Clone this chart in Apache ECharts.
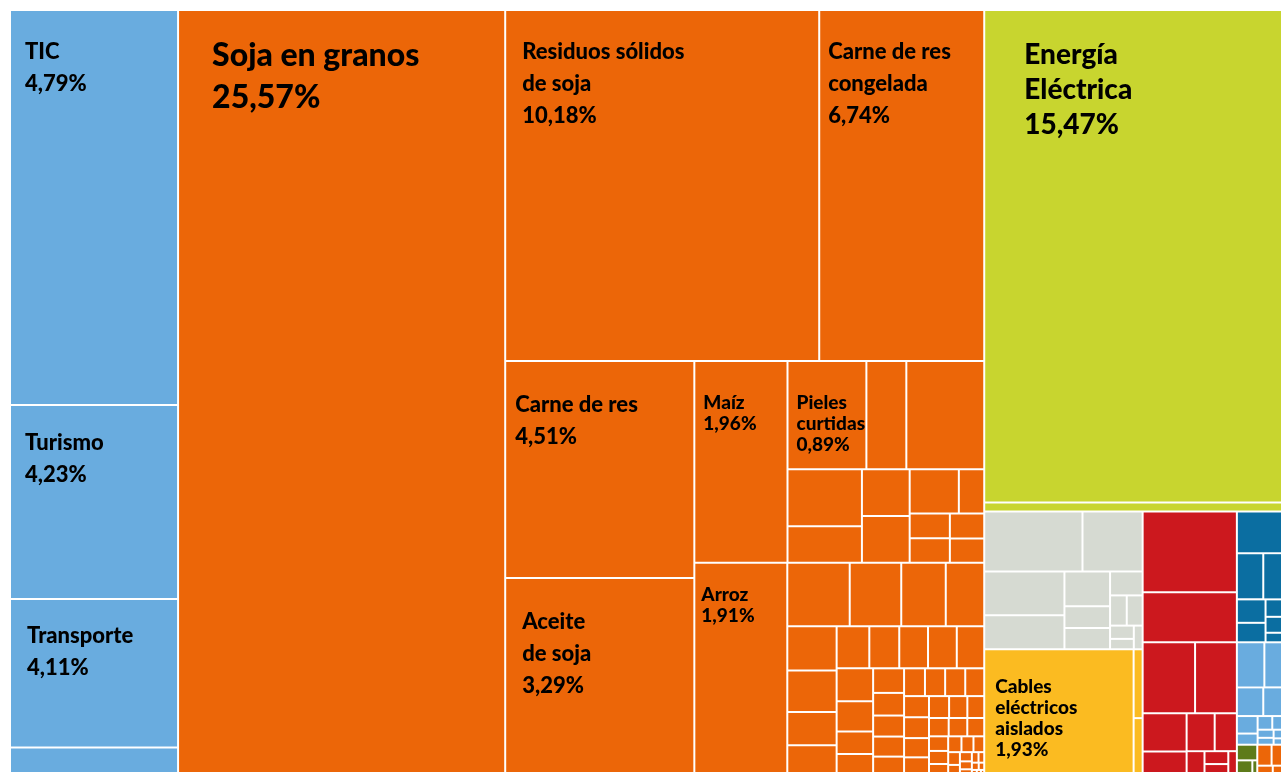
<!DOCTYPE html>
<html>
<head>
<meta charset="utf-8">
<script src="https://cdn.jsdelivr.net/npm/echarts@6/dist/echarts.min.js"></script>
<style>
  html, body { margin: 0; padding: 0; background: #fff; }
  #chart { width: 1281px; height: 772px; }
</style>
</head>
<body>
<div id="chart"></div>
<script>
// ============================================
// DATA (tile sizes, printed shares kept as text)
// ============================================

const serviceNames = ['TIC', 'Turismo', 'Transporte', 'Otros servicios'];
const serviceValues = [66360, 32592, 24957, 4779];
const serviceShares = ['4,79%', '4,23%', '4,11%', ''];

const agroNames = ['Soja en granos', 'Residuos sólidos\nde soja', 'Carne de res\ncongelada', 'Carne de res',
  'Aceite\nde soja', 'Maíz', 'Arroz', 'Pieles\ncurtidas'];
const agroValues = [250482, 110214, 57915, 41013, 37422, 18786, 19809, 8532];
const agroShares = ['25,57%', '10,18%', '6,74%', '4,51%', '3,29%', '1,96%', '1,91%', '0,89%'];

// unlabelled agro tiles next to / below "Pieles curtidas"
const agroMinorTop = [4320, 8424, 4230, 2728, 2232, 2232, 2170, 1120, 992, 992, 864, 832];
const agroMinorBottom = [3956, 3266, 2821, 2438, 2184, 2046, 1643, 1512, 1375, 1260, 1210, 1210, 1155,
  1200, 1100, 828, 800, 760, 700, 650, 620, 600, 580, 560, 558, 527, 527, 520, 480, 465, 440, 400, 370,
  360, 340, 310, 280, 250, 230, 210, 190, 170, 150, 130, 110, 95, 80, 70, 60, 50, 40, 30, 25, 20];
const agroTailValues = [300, 260, 160, 116];

const energyNames = ['Energía\nEléctrica', 'Otros energía'];
const energyValues = [147600, 2700];
const energyShares = ['15,47%', ''];

const greyTopValues = [5880, 3600];
const greyRestValues = [3520, 2720, 1584, 990, 975, 780, 504, 480, 315, 247, 209];

const cableNames = ['Cables\neléctricos\naislados', 'Otros 1', 'Otros 2'];
const cableValues = [18923, 621, 522];
const cableShares = ['1,93%', '', ''];

const redTopValues = [7598, 4716];
const redRestValues = [3719, 2966, 1679, 1079, 1063, 841, 444, 307, 284, 213];
const tealValues = [1960, 1218, 957, 672, 558, 322, 294, 176];
const skyValues = [1239, 885, 756, 594, 363, 231, 200, 160, 130, 110, 90, 66];
const oliveValues = [319, 242, 77];

// ============================================
// STYLE
// ============================================

const COLORS = {
  services: '#69acdf',
  agro: '#ec6608',
  energy: '#c8d52f',
  grey: '#d6dad2',
  cables: '#fbbb21',
  red: '#cc181e',
  teal: '#0b6ea1',
  olive: '#5e7b1a'
};

// label offsets inside each tile, font size, line height
const LABELS = {
  'TIC': { at: [14, 25], size: 22, lh: 32 },
  'Turismo': { at: [14, 21], size: 22, lh: 32 },
  'Transporte': { at: [16, 20], size: 22, lh: 32 },
  'Soja en granos': { at: [33, 24], size: 32, lh: 42 },
  'Residuos sólidos\nde soja': { at: [16, 25], size: 22, lh: 32 },
  'Carne de res\ncongelada': { at: [8, 25], size: 22, lh: 32 },
  'Carne de res': { at: [9, 27], size: 22, lh: 32 },
  'Aceite\nde soja': { at: [16, 27], size: 22, lh: 32 },
  'Maíz': { at: [8, 30], size: 19, lh: 21 },
  'Arroz': { at: [6, 21], size: 19, lh: 21 },
  'Pieles\ncurtidas': { at: [8, 30], size: 19, lh: 21 },
  'Energía\nEléctrica': { at: [39, 26], size: 28, lh: 35 },
  'Cables\neléctricos\naislados': { at: [10, 26], size: 19, lh: 21 }
};

// ============================================
// TREE
// ============================================

function tile(name, value, share, color) {
  const node = {
    name: name,
    value: value,
    itemStyle: { color: color, borderWidth: 1, borderColor: '#fff' }
  };
  const s = LABELS[name];
  if (s) {
    node.label = {
      show: true,
      position: s.at,
      formatter: name + '\n' + share,
      fontSize: s.size,
      lineHeight: s.lh
    };
  }
  return node;
}

function tiles(values, color) {
  return values.map(v => tile('', v, '', color));
}

function box(children) {
  return { children: children };
}

const services = serviceNames.map((n, i) => tile(n, serviceValues[i], serviceShares[i], COLORS.services));
const agro = i => tile(agroNames[i], agroValues[i], agroShares[i], COLORS.agro);
const energy = energyNames.map((n, i) => tile(n, energyValues[i], energyShares[i], COLORS.energy));
const cables = cableNames.map((n, i) => tile(n, cableValues[i], cableShares[i], COLORS.cables));

const data = [
  box(services),
  box([
    agro(0),
    box([
      box([agro(1), agro(2)]),
      box([
        agro(3), agro(4), agro(5),
        box([agro(7)].concat(tiles(agroMinorTop, COLORS.agro))),
        agro(6),
        box(tiles(agroMinorBottom, COLORS.agro))
      ]),
      box([
        box(energy),
        box([
          box([box(tiles(greyTopValues, COLORS.grey)), box(tiles(greyRestValues, COLORS.grey))]),
          box(cables),
          box(tiles(redTopValues, COLORS.red)),
          box(tiles(tealValues, COLORS.teal)),
          box(tiles(redRestValues, COLORS.red)),
          box([
            box(tiles(skyValues, COLORS.services)),
            box([box(tiles(oliveValues, COLORS.olive)), box(tiles(agroTailValues, COLORS.agro))])
          ])
        ])
      ])
    ])
  ])
];

// ============================================
// CHART
// ============================================

const chart = echarts.init(document.getElementById('chart'));

chart.setOption({
  animation: false,
  series: [{
    type: 'treemap',
    left: 10,
    top: 10,
    width: 1274,
    height: 766,
    sort: false,
    squareRatio: 1.335,
    roam: false,
    nodeClick: false,
    silent: true,
    breadcrumb: { show: false },
    upperLabel: { show: false },
    label: {
      show: false,
      fontFamily: 'Lato',
      fontWeight: 900,
      color: '#000',
      padding: 0,
      overflow: 'none'
    },
    itemStyle: { borderWidth: 0, gapWidth: 0, borderColor: '#fff' },
    data: data
  }]
});
</script>
</body>
</html>
